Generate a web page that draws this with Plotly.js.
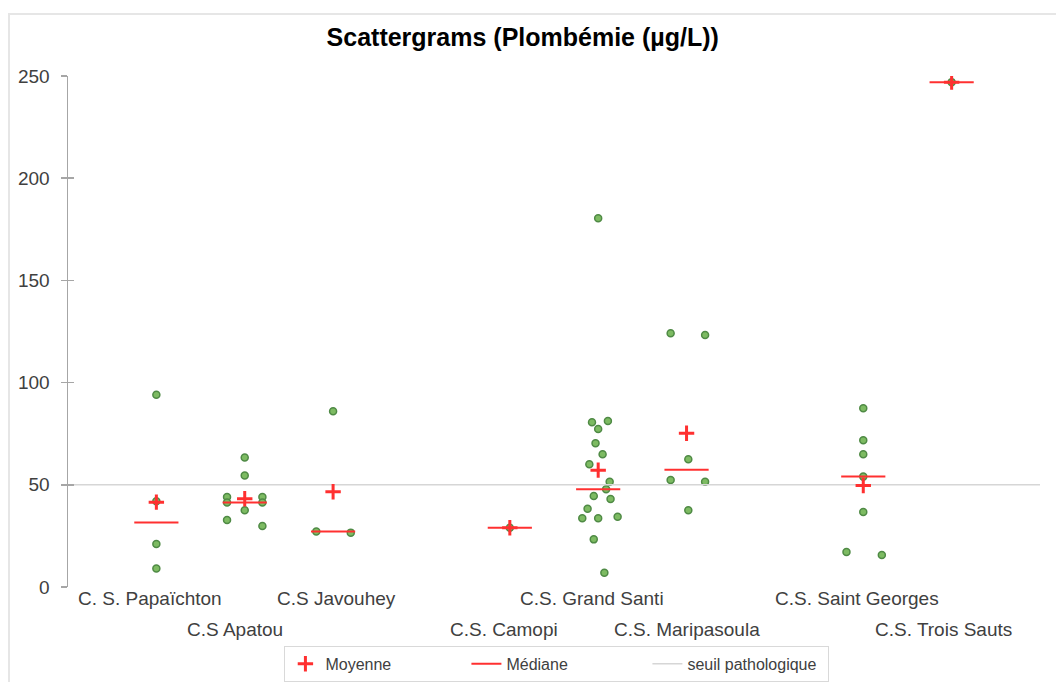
<!DOCTYPE html>
<html>
<head>
<meta charset="utf-8">
<script src="https://cdn.plot.ly/plotly-3.0.1.min.js"></script>
<style>
  html, body { margin: 0; padding: 0; background: #fff; }
  #frame { position: absolute; left: 8px; top: 13px; width: 1100px; height: 700px;
           border-left: 2px solid #e6e6e6; border-top: 2px solid #e6e6e6; }
  #chart { position: absolute; left: 0; top: 0; width: 1056px; height: 682px; }
</style>
</head>
<body>
<div id="frame"></div>
<div id="chart"></div>
<script>
// Health centres and their position along the x axis
const centres = ["C. S. Papaïchton", "C.S Apatou", "C.S Javouhey", "C.S. Camopi",
                 "C.S. Grand Santi", "C.S. Maripasoula", "C.S. Saint Georges", "C.S. Trois Sauts"];
const centrePos = [1, 2, 3, 5, 6, 7, 9, 10];
const labelRow = [0, 1, 0, 1, 0, 1, 0, 1];
const labelNudge = [-6, -10, 3, -6, -6, 0, -6, -8];

// Blood lead measurements (µg/L) per centre
const papaichton = [94, 42, 21, 9];
const apatou = [44, 41.3, 63.3, 54.6, 37.5, 32.8, 44, 41.3, 29.8];
const javouhey = [86, 27.2, 26.6];
const camopi = [29];
const grandSanti = [180.4, 80.6, 81.2, 77.3, 70.3, 64.9, 60.0, 51.5, 47.8, 44.5, 43.1, 38.3, 33.6, 33.6, 34.4, 23.3, 7.0];
const maripasoula = [124.1, 123.3, 62.5, 52.3, 51.5, 37.5];
const saintGeorges = [87.4, 71.8, 64.9, 54.0, 36.7, 17.1, 15.7];
const troisSauts = [247];

// Horizontal spread of the dots inside each column
const papaichtonJitter = [0, 0, 0, 0];
const apatouJitter = [-0.2, -0.2, 0, 0, 0, -0.2, 0.2, 0.2, 0.2];
const javouheyJitter = [0, -0.19, 0.2];
const camopiJitter = [0];
const grandSantiJitter = [0, -0.07, 0.11, 0, -0.03, 0.05, -0.1, 0.13, 0.09, -0.05, 0.14, -0.12, -0.18, 0, 0.22, -0.05, 0.07];
const maripasoulaJitter = [-0.18, 0.21, 0.02, -0.18, 0.21, 0.02];
const saintGeorgesJitter = [0, 0, 0, 0, 0, -0.19, 0.21];
const troisSautsJitter = [0];

const threshold = 50;

const groups = [papaichton, apatou, javouhey, camopi, grandSanti, maripasoula, saintGeorges, troisSauts];
const jitters = [papaichtonJitter, apatouJitter, javouheyJitter, camopiJitter,
                 grandSantiJitter, maripasoulaJitter, saintGeorgesJitter, troisSautsJitter];

const mean = a => a.reduce((s, v) => s + v, 0) / a.length;
const median = a => {
  const s = [...a].sort((p, q) => p - q), m = Math.floor(s.length / 2);
  return s.length % 2 ? s[m] : (s[m - 1] + s[m]) / 2;
};

const dotX = [], dotY = [];
groups.forEach((g, i) => g.forEach((v, j) => { dotX.push(centrePos[i] + jitters[i][j]); dotY.push(v); }));

const medX = [], medY = [];
groups.forEach((g, i) => {
  const m = median(g);
  medX.push(centrePos[i] - 0.25, centrePos[i] + 0.25, null);
  medY.push(m, m, null);
});

const FONT = "Liberation Sans, Arial, sans-serif";
const red = "#ff3030";
const traces = [
  { type: "scatter", mode: "markers", x: dotX, y: dotY, showlegend: false, hoverinfo: "y",
    marker: { size: 7, color: "#7dbb62", line: { color: "#4f8a45", width: 1.5 } } },
  { type: "scatter", mode: "lines", x: [0, 11], y: [threshold, threshold], name: "seuil pathologique",
    line: { color: "#d6d6d6", width: 1.5 }, hoverinfo: "skip" },
  { type: "scatter", mode: "lines", x: medX, y: medY, name: "Médiane",
    line: { color: red, width: 2 } },
  { type: "scatter", mode: "markers", x: centrePos, y: groups.map(mean), name: "Moyenne",
    marker: { symbol: "cross-thin", size: 11, color: red, line: { color: red, width: 3 } } }
];

const annotations = centres.map((c, i) => ({
  x: centrePos[i], y: 0, xref: "x", yref: "y", text: c, showarrow: false,
  xanchor: "center", yanchor: "middle", xshift: labelNudge[i], yshift: labelRow[i] ? -42 : -11,
  font: { family: FONT, size: 19, color: "#404040" }
}));

const layout = {
  width: 1056, height: 682,
  margin: { l: 68, r: 16, t: 76, b: 95, autoexpand: false },
  paper_bgcolor: "rgba(0,0,0,0)", plot_bgcolor: "rgba(0,0,0,0)",
  title: { text: "<b>Scattergrams (Plombémie (µg/L))</b>", x: 0.495, xanchor: "center", y: 0.945, yanchor: "middle",
           font: { family: FONT, size: 25, color: "#000" } },
  xaxis: { range: [0, 11], showgrid: false, zeroline: false, showline: false, showticklabels: false, ticks: "" },
  yaxis: { range: [0, 250], tickvals: [0, 50, 100, 150, 200, 250], showgrid: false, zeroline: false,
           showline: true, linecolor: "#a6a6a6", linewidth: 1.5, ticks: "outside", ticklen: 6,
           tickcolor: "#a6a6a6", tickwidth: 1.5, ticklabelstandoff: 7,
           tickfont: { family: FONT, size: 19, color: "#404040" } },
  yaxis2: { range: [0, 250], overlaying: "y", tickvals: [0, 50, 100, 150, 200, 250], showgrid: false,
            zeroline: false, showline: false, ticks: "inside", ticklen: 6, tickcolor: "#a6a6a6",
            tickwidth: 1.5, showticklabels: false, side: "left" },
  legend: { orientation: "h", x: 0.503, xanchor: "center", yref: "container", y: 0.053, yanchor: "top",
            bordercolor: "#d9d9d9", borderwidth: 1, traceorder: "reversed", tracegroupgap: 0,
            entrywidthmode: "pixels", entrywidth: 136,
            font: { family: FONT, size: 16, color: "#404040" } },
  annotations: annotations,
  showlegend: true
};

// Invisible trace so the second y axis (crossing ticks) is drawn
traces.push({ type: "scatter", x: [0], y: [0], yaxis: "y2", mode: "markers",
              marker: { opacity: 0 }, showlegend: false, hoverinfo: "skip" });

Plotly.newPlot("chart", traces, layout, { displayModeBar: false, staticPlot: true });
</script>
</body>
</html>
